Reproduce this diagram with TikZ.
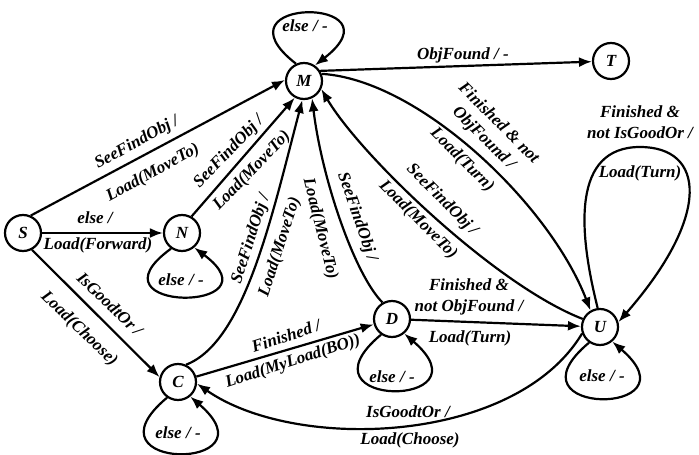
\documentclass[tikz,border=0pt]{standalone}
\usepackage{fontspec}
\setmainfont{Liberation Serif}
\usetikzlibrary{arrows.meta,calc}
\begin{document}
\begin{tikzpicture}[x=1pt,y=-1pt,
  every node/.style={font=\fontsize{17}{21}\selectfont\bfseries\itshape},
  state/.style={circle,draw,line width=2.2pt,minimum size=36pt,inner sep=0pt},
  arr/.style={line width=2.2pt,-{Latex[length=13pt,width=10pt]}},
  lbl/.style={inner sep=0pt,align=center}]
\useasboundingbox (0,0) rectangle (699,455);

% states
\node[state] (S) at (23,233) {S};
\node[state] (N) at (182,233) {N};
\node[state] (M) at (304,81) {M};
\node[state] (T) at (611,61) {T};
\node[state] (C) at (178,382) {C};
\node[state] (D) at (392,319) {D};
\node[state] (U) at (600,327) {U};

% self loops
\draw[arr] (M.115) .. controls ($(M)+(-95,-85)$) and ($(M)+(100,-85)$) .. (M.55);
\draw[arr] (N.-125) .. controls ($(N)+(-100,80)$) and ($(N)+(100,80)$) .. (N.-50);
\draw[arr] (C.-125) .. controls ($(C)+(-100,90)$) and ($(C)+(100,90)$) .. (C.-50);
\draw[arr] (D.-125) .. controls ($(D)+(-100,90)$) and ($(D)+(100,90)$) .. (D.-50);
\draw[arr] (U.-125) .. controls ($(U)+(-100,90)$) and ($(U)+(100,90)$) .. (U.-50);
\coordinate (Utop) at (640,147);
\draw[arr] (U.97) .. controls (578,230) and (572,147) .. (Utop)
  .. controls (705,147) and (712,215) .. (U.15);

% transitions
\draw[arr] (S.66) -- (M.177);
\draw[arr] (S) -- (N);
\draw[arr] (N.60) -- (M.-119);
\draw[arr] (S.-62) -- (C.165);
\draw[arr] (C.65) .. controls (245,342) and (272,215) .. (M.-95);
\draw[arr] (D.120) .. controls (355,275) and (322,180) .. (M.-65);
\draw[arr] (M.22) .. controls (420,80) and (550,205) .. (U.120);
\draw[arr] (U.155) .. controls (495,285) and (360,155) .. (M.-25);
\draw[arr] (M.32) -- (T);
\draw[arr] (C) -- (D);
\draw[arr] (D) -- (U);
\draw[arr] (U.-160) .. controls (515,445) and (295,452) .. (C.-5);

% loop labels
\node[lbl] (lM) at (305,26) {else / -};
\node[lbl] (lN) at (181,280) {else / -};
\node[lbl] (lC) at (178,433) {else / -};
\node[lbl] (lD) at (392,377) {else / -};
\node[lbl] (lU) at (602,376) {else / -};
\node[lbl] (lUa) at (640,122) {Finished \&\\not IsGoodOr /};
\node[lbl] (lUb) at (640,173) {Load(Turn)};

% transition labels
\node[lbl,rotate=28.5] (lSMa) at (137,143) {SeeFindObj /};
\node[lbl,rotate=28.5] (lSMb) at (153,173) {Load(MoveTo)};
\node[lbl] (lSNa) at (95,218) {else /};
\node[lbl] (lSNb) at (98,245) {Load(Forward)};
\node[lbl,rotate=46] (lNMa) at (229,152) {SeeFindObj /};
\node[lbl,rotate=46] (lNMb) at (252,171) {Load(MoveTo)};
\node[lbl,rotate=-44] (lSCa) at (110,304) {IsGoodtOr /};
\node[lbl,rotate=-44] (lSCb) at (79,329) {Load(Choose)};
\node[lbl,rotate=72] (lCMa) at (251,239) {SeeFindObj /};
\node[lbl,rotate=72] (lCMb) at (280,247) {Load(MoveTo)};
\node[lbl,rotate=-76] (lDMa) at (320,229) {Load(MoveTo)};
\node[lbl,rotate=-71] (lDMb) at (357,217) {SeeFindObj /};
\node[lbl,rotate=-45] (lMUa) at (491,131) {Finished \& not\\ObjFound /};
\node[lbl,rotate=-45] (lMUb) at (462,160) {Load(Turn)};
\node[lbl,rotate=-45] (lUMa) at (442,200) {SeeFindObj /};
\node[lbl,rotate=-45] (lUMb) at (418,220) {Load(MoveTo)};
\node[lbl] (lMT) at (463,55) {ObjFound / -};
\node[lbl,rotate=18] (lCDa) at (286,336) {Finished /};
\node[lbl,rotate=18] (lCDb) at (293,362) {Load(MyLoad(BO))};
\node[lbl] (lDUa) at (469,297) {Finished \&\\not ObjFound /};
\node[lbl] (lDUb) at (470,338) {Load(Turn)};
\node[lbl] (lUCa) at (408,412) {IsGoodtOr /};
\node[lbl] (lUCb) at (410,440) {Load(Choose)};
\end{tikzpicture}
\end{document}
